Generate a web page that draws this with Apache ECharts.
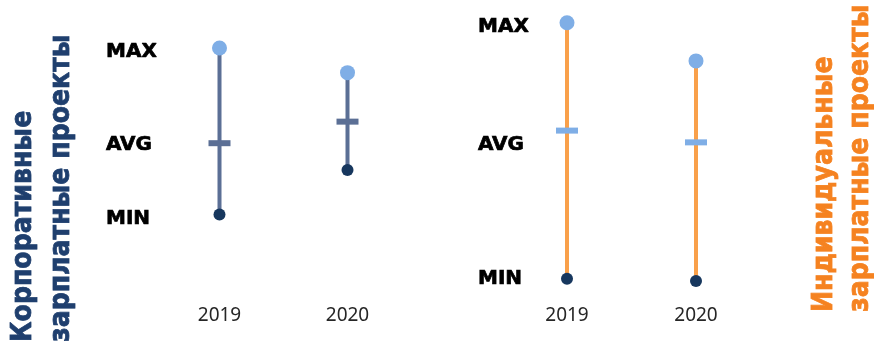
<!DOCTYPE html>
<html>
<head>
<meta charset="utf-8">
<script src="https://cdn.jsdelivr.net/npm/echarts@6/dist/echarts.min.js"></script>
<style>
  html, body { margin: 0; padding: 0; background: #fff; }
  #chart { width: 874px; height: 343px; }
</style>
</head>
<body>
<div id="chart"></div>
<script>
// Salary-project ranges (index scale 0–100): min / average / max per year
const years = ['2019', '2020'];

const corpMax = [90, 81.2];
const corpAvg = [56, 63.7];
const corpMin = [30.5, 46.4];

const indivMax = [99, 85.4];
const indivAvg = [60.5, 56.3];
const indivMin = [7.6, 6.8];

const rowLabels = ['MAX', 'AVG', 'MIN'];
const titleCorp = ['Корпоративные', 'зарплатные проекты'];
const titleIndiv = ['Индивидуальные', 'зарплатные проекты'];

const NAVY = '#17375E';
const LIGHT_BLUE = '#7FAEE6';

function rangeSeries(idx, mins, avgs, maxs, lineColor, tickColor) {
  const data = years.map((y, i) => [i, mins[i], avgs[i], maxs[i]]);
  return {
    type: 'custom',
    xAxisIndex: idx,
    yAxisIndex: idx,
    data: data,
    renderItem: function (params, api) {
      const x = api.value(0);
      const pMin = api.coord([x, api.value(1)]);
      const pAvg = api.coord([x, api.value(2)]);
      const pMax = api.coord([x, api.value(3)]);
      return {
        type: 'group',
        children: [
          { type: 'line', shape: { x1: pMin[0], y1: pMin[1], x2: pMax[0], y2: pMax[1] },
            style: { stroke: lineColor, lineWidth: 4 } },
          { type: 'rect', shape: { x: pAvg[0] - 11, y: pAvg[1] - 3, width: 22, height: 6 },
            style: { fill: tickColor } },
          { type: 'circle', shape: { cx: pMax[0], cy: pMax[1], r: 7.5 },
            style: { fill: LIGHT_BLUE } },
          { type: 'circle', shape: { cx: pMin[0], cy: pMin[1], r: 6 },
            style: { fill: NAVY } }
        ]
      };
    }
  };
}

const chart = echarts.init(document.getElementById('chart'), null, { renderer: 'canvas' });

const xAxisBase = {
  type: 'category',
  data: years,
  axisLine: { show: false },
  axisTick: { show: false },
  axisLabel: { fontFamily: 'Noto Sans', fontSize: 19, color: '#262626', margin: 6 }
};
const yAxisBase = { type: 'value', min: 0, max: 100, show: false, splitLine: { show: false } };

function rowText(x, y, text) {
  return { type: 'text', x: x, y: y,
    style: { text: text, fontFamily: 'DejaVu Sans', fontWeight: 'bold', fontSize: 20,
             fill: '#000', stroke: '#000', lineWidth: 0.7,
             align: 'left', verticalAlign: 'middle' } };
}
function titleText(x, y, text, color) {
  return { type: 'text', x: x, y: y, rotation: Math.PI / 2, scaleX: 0.9,
    style: { text: text, fontFamily: 'DejaVu Sans', fontWeight: 'bold', fontSize: 28,
             fill: color, stroke: color, lineWidth: 0.8,
             align: 'left', verticalAlign: 'middle' } };
}

chart.setOption({
  animation: false,
  grid: [
    { left: 155.5, width: 256, top: 20, height: 280 },
    { left: 502.5, width: 258, top: 20, height: 280 }
  ],
  xAxis: [
    Object.assign({ gridIndex: 0 }, xAxisBase),
    Object.assign({ gridIndex: 1 }, xAxisBase)
  ],
  yAxis: [
    Object.assign({ gridIndex: 0 }, yAxisBase),
    Object.assign({ gridIndex: 1 }, yAxisBase)
  ],
  series: [
    rangeSeries(0, corpMin, corpAvg, corpMax, '#5B6F95', '#5B6F95'),
    rangeSeries(1, indivMin, indivAvg, indivMax, '#F9A04A', LIGHT_BLUE)
  ],
  graphic: [
    rowText(106, 52, rowLabels[0]),
    rowText(106, 145, rowLabels[1]),
    rowText(106, 219, rowLabels[2]),
    rowText(478, 27, rowLabels[0]),
    rowText(478, 145, rowLabels[1]),
    rowText(478, 279, rowLabels[2]),
    titleText(24, 342, titleCorp[0], '#1F3F6E'),
    titleText(62, 342, titleCorp[1], '#1F3F6E'),
    titleText(825, 312, titleIndiv[0], '#F58220'),
    titleText(861, 312, titleIndiv[1], '#F58220')
  ]
});
</script>
</body>
</html>
